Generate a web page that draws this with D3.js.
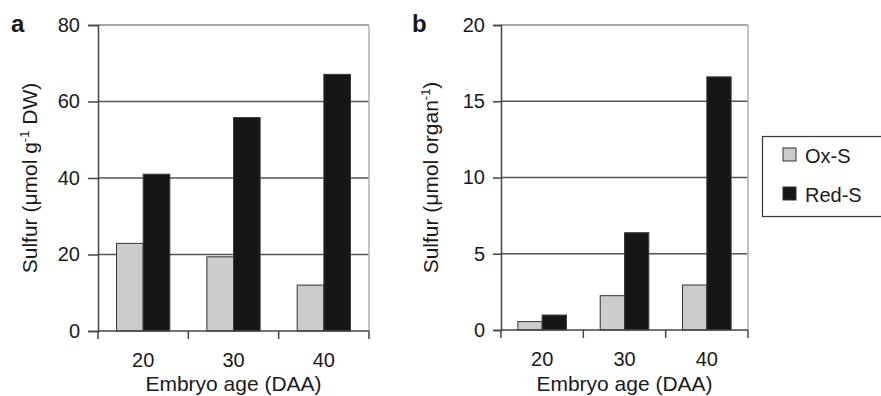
<!DOCTYPE html>
<html><head><meta charset="utf-8">
<script src="https://cdn.jsdelivr.net/npm/d3@7"></script>
<style>
body{margin:0;background:#fff;}
text{font-family:"Liberation Sans",Arial,sans-serif;fill:#1a1a1a;}
</style></head>
<body><svg id="c" width="881" height="396"></svg>
<script>
const categories = ["20","30","40"];
const seriesNames = ["Ox-S","Red-S"];
const seriesColors = ["#cccccc","#161616"];
const oxA = [22.9, 19.4, 12.0];
const redA = [41.0, 55.8, 67.1];
const oxB = [0.55, 2.25, 2.95];
const redB = [0.98, 6.38, 16.6];
const ticksA = [0, 20, 40, 60, 80];
const ticksB = [0, 5, 10, 15, 20];

const svg = d3.select("#c");

function panel(opt){
  const g = svg.append("g");
  const y = d3.scaleLinear().domain([0, opt.max]).range([opt.bottom, opt.top]);
  const x0 = d3.scaleBand().domain(categories).range([opt.left, opt.right]).paddingInner(0.41).paddingOuter(0.205);
  const x1 = d3.scaleBand().domain(seriesNames).range([0, x0.bandwidth()]);
  const step = x0.step();
  g.selectAll(".grid").data(opt.ticks.filter(d=>d>0)).join("line")
    .attr("x1", opt.left).attr("x2", opt.right)
    .attr("y1", d=>y(d)).attr("y2", d=>y(d))
    .attr("stroke", d=> d===opt.max ? "#8a8a8a" : "#555").attr("stroke-width", 1.5);
  g.append("line").attr("x1", opt.right).attr("x2", opt.right).attr("y1", opt.top).attr("y2", opt.bottom)
    .attr("stroke", "#b0b0b0").attr("stroke-width", 1.5);
  const data = categories.map((c,i)=>({c, vals:[opt.ox[i], opt.red[i]]}));
  const grp = g.selectAll(".grp").data(data).join("g").attr("transform", d=>`translate(${x0(d.c)},0)`);
  grp.selectAll("rect").data(d=>d.vals.map((v,k)=>({k,v}))).join("rect")
    .attr("x", d=>x1(seriesNames[d.k])).attr("width", x1.bandwidth())
    .attr("y", d=>y(d.v)).attr("height", d=>y(0)-y(d.v))
    .attr("fill", d=>seriesColors[d.k]).attr("stroke", d=> d.k===0 ? "#333" : "#3a3a3a").attr("stroke-width", 1);
  const ya = g.append("g").attr("transform", `translate(${opt.left},0)`)
    .call(d3.axisLeft(y).tickValues(opt.ticks).tickSize(opt.tickLen).tickPadding(8).tickFormat(d3.format("d")));
  ya.select(".domain").attr("stroke", "#444").attr("stroke-width", 1.5);
  ya.selectAll(".tick line").attr("stroke", "#444").attr("stroke-width", 1.5);
  ya.selectAll(".tick text").attr("font-size", 20).attr("font-family", "Liberation Sans, Arial, sans-serif").attr("fill", "#1a1a1a");
  const xa = g.append("g").attr("transform", `translate(0,${opt.bottom})`)
    .call(d3.axisBottom(x0).tickSize(0).tickPadding(22));
  xa.select(".domain").attr("stroke", "#444").attr("stroke-width", 1.5).attr("d", `M${opt.left},0H${opt.right}`);
  xa.selectAll(".tick text").attr("font-size", 20).attr("font-family", "Liberation Sans, Arial, sans-serif").attr("fill", "#1a1a1a");
  const bounds = d3.range(categories.length + 1).map(i => opt.left + i*step);
  g.selectAll(".xt").data(bounds).join("line")
    .attr("x1", d=>d).attr("x2", d=>d).attr("y1", opt.bottom).attr("y2", opt.bottom + 8)
    .attr("stroke", "#444").attr("stroke-width", 1.5);
  g.append("text").attr("x", (opt.left+opt.right)/2).attr("y", 391).attr("text-anchor", "middle")
    .attr("font-size", 21).text("Embryo age (DAA)");
  const yt = g.append("text").attr("transform", `translate(${opt.ytx},${(opt.top+opt.bottom)/2}) rotate(-90)`)
    .attr("text-anchor", "middle").attr("font-size", 21);
  yt.append("tspan").text(opt.yt1);
  yt.append("tspan").attr("font-size", 13).attr("dy", -8).text("-1");
  yt.append("tspan").attr("dy", 8).text(opt.yt2);
  g.append("text").attr("x", opt.lx).attr("y", 32).attr("font-size", 24).attr("font-weight", "bold").text(opt.letter);
}

panel({left:98, right:369, top:25, bottom:331, max:80, ticks:ticksA, ox:oxA, red:redA, tickLen:10,
  ytx:37, yt1:"Sulfur (\u03bcmol g", yt2:" DW)", letter:"a", lx:11});
panel({left:501, right:748, top:25, bottom:330, max:20, ticks:ticksB, ox:oxB, red:redB, tickLen:8,
  ytx:438, yt1:"Sulfur (\u03bcmol organ", yt2:")", letter:"b", lx:412});

const leg = svg.append("g");
leg.append("rect").attr("x", 762.5).attr("y", 136.5).attr("width", 130).attr("height", 80)
  .attr("fill", "#fff").attr("stroke", "#333").attr("stroke-width", 1.2);
const li = leg.selectAll(".li").data(seriesNames).join("g")
  .attr("transform", (d,i)=>`translate(783,${148 + i*39})`);
li.append("rect").attr("width", 13).attr("height", 13)
  .attr("fill", (d,i)=>seriesColors[i]).attr("stroke", "#333").attr("stroke-width", 1);
li.append("text").attr("x", 22).attr("y", 15).attr("font-size", 20).text(d=>d);
</script></body></html>
